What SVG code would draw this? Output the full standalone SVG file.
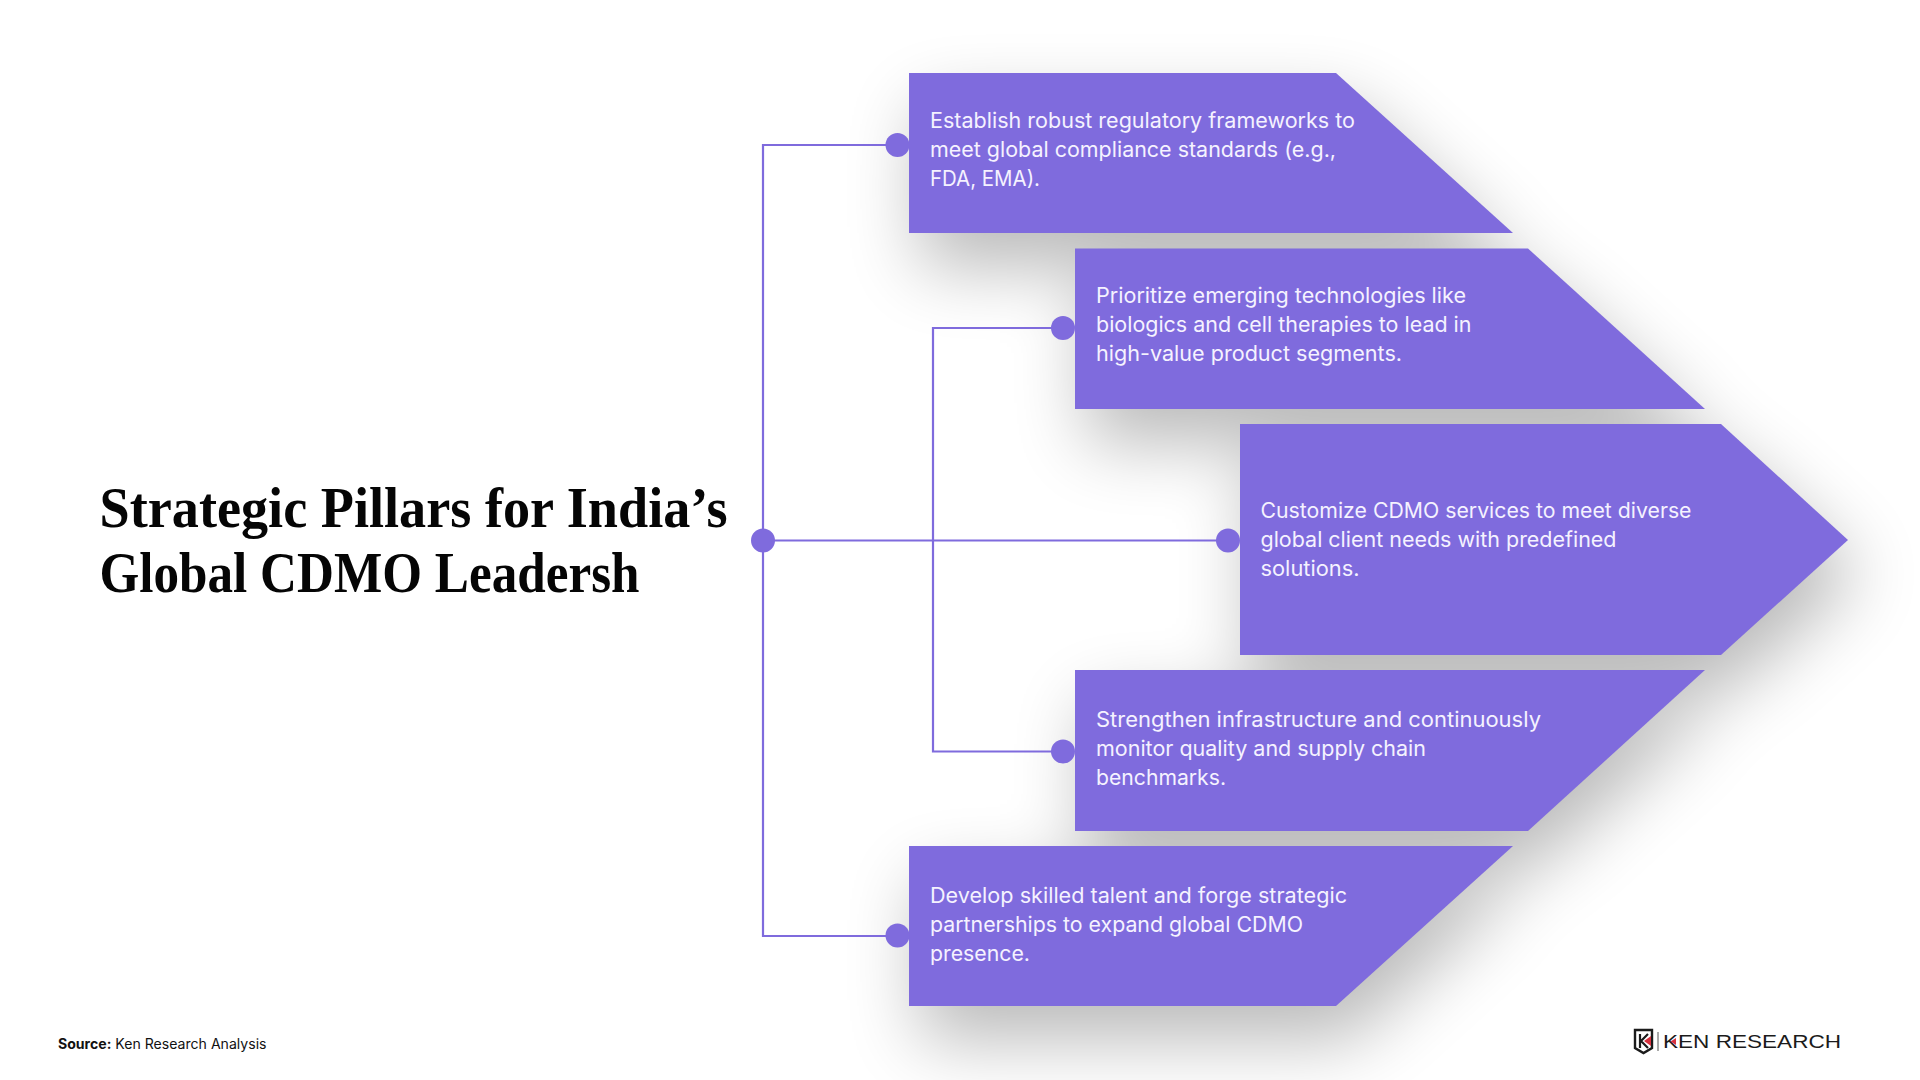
<svg xmlns="http://www.w3.org/2000/svg" width="1920" height="1080" viewBox="0 0 1920 1080">
<style>
.card{fill:#7f6bdd}
.dot{fill:#7f6bdd}
.wire{fill:none;stroke:#7f6bdd;stroke-width:2.2}
.body{font-family:"Inter","Noto Sans",sans-serif;font-size:21px;fill:#f5f2ff}
.title{font-family:"Liberation Serif",serif;font-weight:700;font-size:56px;fill:#050505}
.src{font-family:"Inter","Noto Sans",sans-serif;font-size:14px;fill:#111}
.brand{font-family:"Liberation Sans",sans-serif;font-size:19px;fill:#1b1b1b}
</style>
<defs>
<filter id="soft" x="-20%" y="-20%" width="140%" height="140%" color-interpolation-filters="sRGB">
<feGaussianBlur stdDeviation="36"/>
</filter>
</defs>
<rect width="1920" height="1080" fill="#ffffff"/>
<g id="shadows" filter="url(#soft)" fill="#000" opacity="0.27" transform="translate(12 34)">
<polygon points="908,73 1336,73 1512,233 908,233"/>
<polygon points="1075,249 1528,249 1705,409 1075,409"/>
<polygon points="1240,424 1721,424 1848,540 1721,655 1240,655"/>
<polygon points="1075,670 1705,670 1528,831 1075,831"/>
<polygon points="908,846 1512,846 1336,1006 908,1006"/>
</g>
<g id="connectors" class="wire">
<path class="wire" d="M897 145H763V936H897"/>
<path class="wire" d="M1063 328H933V751.500H1063"/>
<path class="wire" d="M763 540.500H1228"/>
</g>
<g id="hub"><circle class="dot" cx="763" cy="540.500" r="12"/></g>
<g id="title">
<text class="title" x="99.500" y="527" textLength="628" lengthAdjust="spacingAndGlyphs">Strategic Pillars for India’s</text>
<text class="title" x="99.500" y="592" textLength="540" lengthAdjust="spacingAndGlyphs">Global CDMO Leadersh</text>
</g>
<g id="node-1">
<polygon class="card" points="909,73 1336,73 1513,233 909,233"/>
<circle class="dot" cx="897.500" cy="145" r="12"/>
<text class="body" x="930" y="128" textLength="425" lengthAdjust="spacingAndGlyphs">Establish robust regulatory frameworks to</text>
<text class="body" x="930" y="157" textLength="406" lengthAdjust="spacingAndGlyphs">meet global compliance standards (e.g.,</text>
<text class="body" x="930" y="186" textLength="110" lengthAdjust="spacingAndGlyphs">FDA, EMA).</text>
</g>
<g id="node-2">
<polygon class="card" points="1075,248.500 1528,248.500 1705,409 1075,409"/>
<circle class="dot" cx="1063" cy="328" r="12"/>
<text class="body" x="1096" y="302.500" textLength="370" lengthAdjust="spacingAndGlyphs">Prioritize emerging technologies like</text>
<text class="body" x="1096" y="331.500" textLength="375.500" lengthAdjust="spacingAndGlyphs">biologics and cell therapies to lead in</text>
<text class="body" x="1096" y="360.500" textLength="306" lengthAdjust="spacingAndGlyphs">high-value product segments.</text>
</g>
<g id="node-3">
<polygon class="card" points="1240,424 1721,424 1848,540 1721,655 1240,655"/>
<circle class="dot" cx="1228" cy="540.500" r="12"/>
<text class="body" x="1260.500" y="518" textLength="431" lengthAdjust="spacingAndGlyphs">Customize CDMO services to meet diverse</text>
<text class="body" x="1260.500" y="547" textLength="356" lengthAdjust="spacingAndGlyphs">global client needs with predefined</text>
<text class="body" x="1260.500" y="576" textLength="99" lengthAdjust="spacingAndGlyphs">solutions.</text>
</g>
<g id="node-4">
<polygon class="card" points="1075,670 1705,670 1528,831 1075,831"/>
<circle class="dot" cx="1063" cy="751.500" r="12"/>
<text class="body" x="1096" y="727" textLength="445" lengthAdjust="spacingAndGlyphs">Strengthen infrastructure and continuously</text>
<text class="body" x="1096" y="756" textLength="330" lengthAdjust="spacingAndGlyphs">monitor quality and supply chain</text>
<text class="body" x="1096" y="785" textLength="130" lengthAdjust="spacingAndGlyphs">benchmarks.</text>
</g>
<g id="node-5">
<polygon class="card" points="909,846 1513,846 1336,1006 909,1006"/>
<circle class="dot" cx="897.500" cy="935.500" r="12"/>
<text class="body" x="930" y="902.500" textLength="417" lengthAdjust="spacingAndGlyphs">Develop skilled talent and forge strategic</text>
<text class="body" x="930" y="931.500" textLength="373" lengthAdjust="spacingAndGlyphs">partnerships to expand global CDMO</text>
<text class="body" x="930" y="960.500" textLength="100" lengthAdjust="spacingAndGlyphs">presence.</text>
</g>
<g id="source">
<text class="src" x="58" y="1049" textLength="208.500" lengthAdjust="spacingAndGlyphs"><tspan font-weight="700">Source:</tspan> Ken Research Analysis</text>
</g>
<g id="logo">
<path d="M1635 1030H1652V1048L1643.500 1053L1635 1048Z" fill="none" stroke="#1b1b1b" stroke-width="2.400"/>
<path d="M1640 1034V1048M1648 1034L1641 1041L1648 1048" fill="none" stroke="#1b1b1b" stroke-width="2.200"/>
<polygon points="1651,1036 1651,1046 1644,1041" fill="#d8323f"/>
<path d="M1658 1032V1051" stroke="#555" stroke-width="1"/>
<text class="brand" x="1663" y="1048" textLength="178" lengthAdjust="spacingAndGlyphs">KEN RESEARCH</text>
<polygon points="1676,1038 1676,1045 1670.500,1041.500" fill="#d8323f"/>
</g>
</svg>
